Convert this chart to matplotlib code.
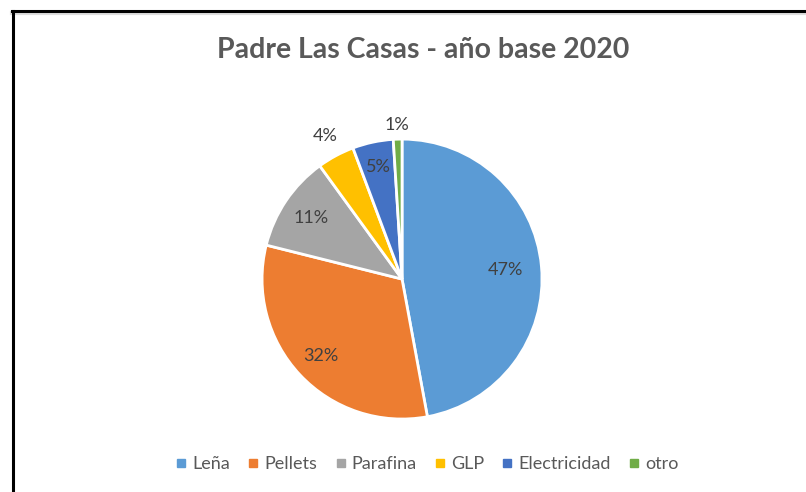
import numpy as np
import matplotlib.pyplot as plt
from matplotlib.lines import Line2D

plt.rcParams['font.family'] = ['Lato', 'DejaVu Sans']

# share of each fuel (percent)
fuels = ["Leña", "Pellets", "Parafina", "GLP", "Electricidad", "otro"]
shares = [47.1, 31.8, 11.1, 4.3, 4.7, 1.0]
colors = ["#5B9BD5", "#ED7D31", "#A5A5A5", "#FFC000", "#4472C4", "#70AD47"]

# how far out each % label sits (fraction of radius)
label_dist = [0.74, 0.80, 0.78, 1.16, 0.82, 1.10]

fig = plt.figure(figsize=(8.06, 4.92), dpi=100)
ax = fig.add_axes([0.3251, 0.1483, 0.3474, 0.569])

wedges, _ = ax.pie(shares, colors=colors, startangle=90, counterclock=False,
                   radius=1, wedgeprops=dict(edgecolor="white", linewidth=2))
ax.set_xlim(-1, 1)
ax.set_ylim(-1, 1)
ax.set_aspect("equal")

for w, s, d in zip(wedges, shares, label_dist):
    mid = np.deg2rad((w.theta1 + w.theta2) / 2)
    ax.text(d * np.cos(mid), d * np.sin(mid), f"{s:.0f}%",
            ha="center", va="center", fontsize=13, color="#404040")

fig.text(0.525, 0.898, "Padre Las Casas - año base 2020", ha="center", va="center",
         fontsize=20.5, fontweight="bold", color="#595959")

handles = [Line2D([0], [0], marker="s", linestyle="none", markersize=6,
                  markerfacecolor=c, markeredgecolor=c) for c in colors]
fig.legend(handles, fuels, loc="center", bbox_to_anchor=(0.53, 0.057), ncol=6,
           frameon=False, fontsize=13, handletextpad=0.3, handlelength=0.6,
           columnspacing=1.0, labelcolor="#595959")

# frame of the chart area (top and left edges visible)
fig.add_artist(Line2D([0.015, 1.0], [0.9735, 0.9735], color="#dddddd", linewidth=3,
                      transform=fig.transFigure))
fig.add_artist(Line2D([0.015, 1.0], [0.977, 0.977], color="black",
                      linewidth=2.2, transform=fig.transFigure))
fig.add_artist(Line2D([0.0165, 0.0165], [0.0, 0.978], color="black", linewidth=2.2,
                      transform=fig.transFigure))

fig.savefig("out.png", dpi=100)
